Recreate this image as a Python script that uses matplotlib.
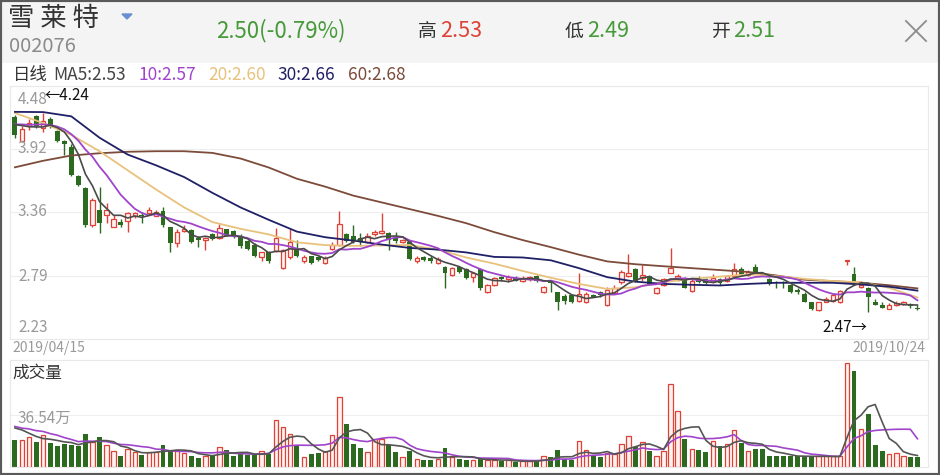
import matplotlib

matplotlib.use("Agg")

import matplotlib.pyplot as plt
import numpy as np
import pandas as pd
from matplotlib.lines import Line2D
from matplotlib.patches import Polygon, Rectangle

plt.rcParams['font.family'] = ['Noto Sans CJK SC', 'DejaVu Sans']

W, H = 940, 475

# daily candles 2019/04/15 .. 2019/10/24
opens = [4.20, 3.99, 4.12, 4.21, 4.11, 4.19, 4.08, 3.99, 3.94, 3.68,
         3.57, 3.24, 3.38, 3.33, 3.23, 3.27, 3.28, 3.32, 3.33, 3.35,
         3.32, 3.37, 3.23, 3.08, 3.19, 3.20, 3.13, 3.11, 3.16, 3.13,
         3.21, 3.19, 3.15, 3.10, 3.07, 2.96, 3.00, 3.01, 2.86, 2.96,
         3.03, 2.92, 2.97, 2.96, 2.91, 3.03, 3.07, 3.16, 3.15, 3.13,
         3.09, 3.16, 3.17, 3.17, 3.13, 3.09, 3.09, 2.92, 2.96, 2.95,
         2.91, 2.87, 2.80, 2.87, 2.85, 2.78, 2.85, 2.65, 2.71, 2.78,
         2.76, 2.77, 2.75, 2.76, 2.79, 2.65, 2.74, 2.65, 2.61, 2.62,
         2.57, 2.56, 2.62, 2.65, 2.53, 2.64, 2.74, 2.79, 2.85, 2.77,
         2.79, 2.64, 2.71, 2.82, 2.76, 2.77, 2.66, 2.76, 2.76, 2.74,
         2.76, 2.75, 2.79, 2.85, 2.80, 2.87, 2.82, 2.76, 2.74, 2.74,
         2.71, 2.67, 2.63, 2.56, 2.49, 2.56, 2.57, 2.56, 2.92, 2.81,
         2.69, 2.68, 2.56, 2.53, 2.50, 2.53, 2.54, 2.54, 2.51]
highs = [4.22, 4.12, 4.19, 4.22, 4.24, 4.20, 4.09, 4.00, 3.96, 3.69,
         3.58, 3.48, 3.58, 3.44, 3.33, 3.30, 3.36, 3.36, 3.36, 3.40,
         3.38, 3.40, 3.23, 3.21, 3.24, 3.21, 3.15, 3.14, 3.17, 3.25,
         3.21, 3.20, 3.16, 3.11, 3.08, 3.00, 3.01, 3.22, 3.03, 3.21,
         3.11, 2.98, 2.97, 2.97, 2.97, 3.09, 3.37, 3.17, 3.24, 3.17,
         3.17, 3.20, 3.35, 3.18, 3.18, 3.12, 3.11, 2.97, 2.97, 2.97,
         2.96, 2.88, 2.87, 2.88, 2.86, 2.83, 2.86, 2.72, 2.78, 2.79,
         2.80, 2.79, 2.79, 2.79, 2.80, 2.70, 2.75, 2.65, 2.63, 2.63,
         2.82, 2.65, 2.63, 2.66, 2.69, 2.71, 2.84, 2.99, 2.86, 2.89,
         2.80, 2.69, 2.77, 3.04, 2.81, 2.78, 2.77, 2.79, 2.77, 2.81,
         2.77, 2.80, 2.91, 2.87, 2.84, 2.90, 2.83, 2.77, 2.75, 2.75,
         2.72, 2.68, 2.65, 2.56, 2.56, 2.60, 2.63, 2.67, 2.93, 2.87,
         2.75, 2.69, 2.59, 2.56, 2.55, 2.57, 2.57, 2.55, 2.53]
lows = [4.02, 3.98, 4.09, 4.11, 4.07, 4.11, 3.98, 3.87, 3.68, 3.59,
        3.23, 3.23, 3.17, 3.26, 3.23, 3.23, 3.18, 3.31, 3.26, 3.33,
        3.32, 3.23, 3.00, 3.05, 3.18, 3.08, 3.05, 3.02, 3.11, 3.12,
        3.15, 3.13, 3.04, 3.02, 2.96, 2.92, 2.91, 3.00, 2.85, 2.94,
        2.96, 2.91, 2.90, 2.92, 2.90, 3.02, 3.06, 3.09, 3.08, 3.06,
        3.08, 3.15, 3.16, 3.02, 3.08, 3.08, 2.93, 2.91, 2.92, 2.91,
        2.90, 2.68, 2.79, 2.82, 2.76, 2.74, 2.67, 2.64, 2.70, 2.75,
        2.74, 2.75, 2.74, 2.75, 2.74, 2.64, 2.65, 2.49, 2.54, 2.55,
        2.56, 2.55, 2.60, 2.60, 2.52, 2.63, 2.72, 2.78, 2.74, 2.75,
        2.71, 2.63, 2.70, 2.82, 2.75, 2.68, 2.65, 2.73, 2.72, 2.73,
        2.71, 2.74, 2.78, 2.79, 2.79, 2.81, 2.79, 2.71, 2.68, 2.68,
        2.64, 2.63, 2.56, 2.49, 2.48, 2.56, 2.56, 2.55, 2.89, 2.71,
        2.68, 2.47, 2.53, 2.51, 2.50, 2.52, 2.53, 2.51, 2.49]
closes = [4.04, 4.10, 4.15, 4.12, 4.17, 4.12, 3.99, 3.96, 3.69, 3.60,
          3.24, 3.47, 3.26, 3.38, 3.30, 3.24, 3.35, 3.35, 3.32, 3.38,
          3.36, 3.24, 3.08, 3.18, 3.21, 3.09, 3.11, 3.13, 3.12, 3.22,
          3.15, 3.15, 3.06, 3.03, 2.97, 3.00, 2.92, 3.13, 3.02, 3.09,
          2.97, 2.96, 2.91, 2.93, 2.95, 3.07, 3.25, 3.10, 3.09, 3.09,
          3.15, 3.18, 3.19, 3.11, 3.10, 3.11, 2.94, 2.95, 2.93, 2.92,
          2.94, 2.82, 2.86, 2.83, 2.77, 2.82, 2.68, 2.71, 2.77, 2.76,
          2.78, 2.75, 2.77, 2.78, 2.75, 2.69, 2.73, 2.56, 2.57, 2.56,
          2.63, 2.63, 2.60, 2.62, 2.67, 2.68, 2.83, 2.82, 2.75, 2.80,
          2.72, 2.68, 2.76, 2.86, 2.79, 2.68, 2.75, 2.74, 2.73, 2.77,
          2.73, 2.79, 2.85, 2.80, 2.83, 2.82, 2.80, 2.72, 2.73, 2.73,
          2.65, 2.65, 2.56, 2.50, 2.56, 2.59, 2.62, 2.66, 2.93, 2.73,
          2.71, 2.60, 2.53, 2.51, 2.53, 2.55, 2.56, 2.52, 2.50]
# volume in 万手
volumes = [19.1, 19.1, 21.4, 17.9, 22.3, 16.8, 14.9, 16.3, 15.6, 14.9,
           23.0, 17.9, 21.4, 15.6, 10.9, 7.9, 12.8, 10.2, 8.6, 10.2,
           10.2, 15.6, 12.1, 11.6, 9.8, 7.4, 6.3, 7.9, 8.4, 14.0,
           11.6, 7.4, 9.8, 8.6, 8.1, 10.9, 9.3, 33.0, 28.4, 23.0,
           14.9, 6.7, 9.3, 9.8, 10.9, 22.6, 49.3, 30.3, 16.1, 13.3,
           10.2, 19.5, 19.5, 15.6, 10.7, 7.0, 10.9, 5.6, 5.1, 5.1,
           5.6, 13.3, 6.7, 5.6, 5.1, 4.7, 6.3, 4.7, 4.7, 4.0,
           4.7, 3.3, 4.0, 4.0, 4.7, 7.4, 6.7, 11.6, 5.6, 4.7,
           18.6, 11.6, 7.4, 7.0, 9.8, 9.3, 16.3, 21.9, 14.0, 17.9,
           10.9, 7.9, 10.9, 58.2, 39.1, 19.5, 12.6, 11.6, 10.7, 18.6,
           14.9, 16.1, 26.1, 16.8, 11.4, 12.8, 12.8, 7.9, 7.9, 7.4,
           7.4, 7.9, 7.4, 7.4, 7.4, 7.4, 7.4, 7.4, 73.1, 67.3,
           26.8, 37.0, 15.6, 11.4, 9.3, 9.8, 7.9, 6.7, 6.7]
# sessions before 04/15, only needed to start the short averages
pre_close = [4.12, 4.18, 4.10, 4.15, 4.17, 4.14, 4.20, 4.13, 4.17]
pre_volume = [31, 27, 30, 28, 32, 26, 33, 29, 30]

# long averages every 4th session
ma_idx = list(range(0, 129, 4))
ma20 = [4.24, 4.15, 4.045, 3.90, 3.73, 3.56, 3.40, 3.27, 3.21, 3.16,
        3.09, 3.065, 3.058, 3.062, 3.066, 3.025, 2.955, 2.90, 2.835, 2.775,
        2.72, 2.675, 2.69, 2.735, 2.765, 2.785, 2.805, 2.79, 2.765, 2.745,
        2.735, 2.685, 2.60]
ma30 = [4.25, 4.248, 4.21, 4.02, 3.87, 3.775, 3.67, 3.53, 3.40, 3.29,
        3.185, 3.135, 3.105, 3.07, 3.04, 3.025, 3.00, 2.96, 2.955, 2.93,
        2.86, 2.78, 2.74, 2.72, 2.712, 2.706, 2.72, 2.73, 2.73, 2.73,
        2.715, 2.695, 2.66]
ma60 = [3.757, 3.815, 3.862, 3.882, 3.895, 3.90, 3.90, 3.885, 3.835, 3.755,
        3.655, 3.585, 3.505, 3.445, 3.385, 3.325, 3.26, 3.18, 3.11, 3.047,
        2.98, 2.92, 2.895, 2.877, 2.86, 2.843, 2.826, 2.795, 2.757, 2.745,
        2.73, 2.708, 2.68]

price_ticks = [4.48, 3.92, 3.36, 2.79, 2.23]
vol_tick = 36.54

RED = '#dc4236'
RED_FILL = '#fff1ef'
GREEN = '#2c6b1f'
GREEN_TXT = '#479a3a'
C_MA5 = '#4a4a4a'
C_MA10 = '#a044cc'
C_MA20 = '#e8c27c'
C_MA30 = '#202066'
C_MA60 = '#7c4b3a'
GRID = '#efefef'
LABEL = '#9a9a9a'


def fx(px):
    return px / W


def fy(py):
    return 1 - py / H


o = np.array(opens)
h = np.array(highs)
lo = np.array(lows)
c = np.array(closes)
v = np.array(volumes)
n = len(c)
x = np.arange(n)
up = c >= o

all_close = pd.Series(pre_close + closes)
ma5 = all_close.rolling(5).mean().to_numpy()[len(pre_close):]
ma10 = all_close.rolling(10).mean().to_numpy()[len(pre_close):]
all_vol = pd.Series(pre_volume + volumes)
vma5 = all_vol.rolling(5).mean().to_numpy()[len(pre_volume):]
vma10 = all_vol.rolling(10).mean().to_numpy()[len(pre_volume):]

fig = plt.figure(figsize=(W / 100, H / 100), dpi=100)
fig.add_artist(Rectangle((0, fy(63)), 1, 1 - fy(63), transform=fig.transFigure,
                         facecolor='#f4f4f4', edgecolor='none', zorder=0))

ax = fig.add_axes([fx(10), fy(339), fx(928) - fx(10), fy(86) - fy(339)])
axv = fig.add_axes([fx(10), fy(467), fx(928) - fx(10), fy(360) - fy(467)])

for a in (ax, axv):
    a.set_xlim(-0.7, 129.5)
    a.set_xticks([])
    a.set_yticks([])
    for s in a.spines.values():
        s.set_color('#e9e9e9')
        s.set_linewidth(0.8)

# price panel
ax.set_ylim(2.23, 4.48)
for t in price_ticks[1:-1]:
    ax.axhline(t, color=GRID, lw=0.8, zorder=0)

body_lo = np.minimum(o, c)
body_hi = np.maximum(o, c)
body_h = np.maximum(body_hi - body_lo, 0.006)

ax.vlines(x[~up], lo[~up], h[~up], color=GREEN, lw=1, zorder=2)
ax.bar(x[~up], body_h[~up], bottom=body_lo[~up], width=0.7, color=GREEN, linewidth=0, zorder=2)
ax.vlines(x[up], lo[up], body_lo[up], color=RED, lw=1, zorder=2)
ax.vlines(x[up], body_hi[up], h[up], color=RED, lw=1, zorder=2)
ax.bar(x[up], body_h[up], bottom=body_lo[up], width=0.64, facecolor=RED_FILL,
       edgecolor=RED, linewidth=0.9, zorder=2)

ax.plot(ma_idx, ma60, color=C_MA60, lw=1.3, zorder=3)
ax.plot(ma_idx, ma20, color=C_MA20, lw=1.3, zorder=3)
ax.plot(ma_idx, ma30, color=C_MA30, lw=1.3, zorder=3)
ax.plot(x, ma10, color=C_MA10, lw=1.3, zorder=3)
ax.plot(x, ma5, color=C_MA5, lw=1.2, zorder=3)

offsets = [-14, 0, 0, 0, 12]
for t, dy in zip(price_ticks, offsets):
    ax.annotate(f"{t:.2f}", xy=(0, t), xycoords=ax.get_yaxis_transform(),
                xytext=(8, dy), textcoords='offset pixels',
                fontsize=11, color=LABEL, va='center', ha='left')

i_max = int(np.argmax(h))
i_min = int(np.argmin(lo))
ax.annotate(f"←{h[i_max]:.2f}", xy=(i_max, h[i_max]), xytext=(1, 17),
            textcoords='offset pixels', fontsize=11, color='#111111', va='center', ha='left')
ax.annotate(f"{lo[i_min]:.2f}→", xy=(i_min, lo[i_min]), xytext=(-1, -15),
            textcoords='offset pixels', fontsize=11, color='#111111', va='center', ha='right')

# volume panel
axv.set_ylim(0, 75.2)
axv.axhline(vol_tick, color=GRID, lw=0.8, zorder=0)
axv.bar(x[~up], v[~up], width=0.7, color=GREEN, linewidth=0, zorder=2)
axv.bar(x[up], v[up], width=0.64, facecolor=RED_FILL, edgecolor=RED, linewidth=0.9, zorder=2)
axv.plot(x, vma10, color=C_MA10, lw=1.2, zorder=3)
axv.plot(x, vma5, color='#555555', lw=1.2, zorder=3)
axv.annotate(f"{vol_tick:.2f}万", xy=(0, vol_tick), xycoords=axv.get_yaxis_transform(),
             xytext=(8, -3), textcoords='offset pixels',
             fontsize=11, color=LABEL, va='center', ha='left')

# header
fig.text(fx(8), fy(18), "雪 莱 特", fontsize=19, color='#333333', va='center')
fig.add_artist(Polygon([(fx(122), fy(14)), (fx(132), fy(14)), (fx(127), fy(19))],
                       closed=True, transform=fig.transFigure, color='#6a8fd0'))
fig.text(fx(9), fy(46), "002076", fontsize=14.5, color='#8a8a8a', va='center')
fig.text(fx(216), fy(31), "2.50(-0.79%)", fontsize=16, color=GREEN_TXT, va='center')
fig.text(fx(418), fy(31), "高", fontsize=13.5, color='#333333', va='center')
fig.text(fx(440), fy(31), "2.53", fontsize=15.5, color=RED, va='center')
fig.text(fx(565), fy(31), "低", fontsize=13.5, color='#333333', va='center')
fig.text(fx(587), fy(31), "2.49", fontsize=15.5, color=GREEN_TXT, va='center')
fig.text(fx(712), fy(31), "开", fontsize=13.5, color='#333333', va='center')
fig.text(fx(733), fy(31), "2.51", fontsize=15.5, color=GREEN_TXT, va='center')
fig.add_artist(Line2D([fx(906), fx(926)], [fy(21), fy(41)], transform=fig.transFigure,
                      color='#8c8c8c', lw=1.3))
fig.add_artist(Line2D([fx(926), fx(906)], [fy(21), fy(41)], transform=fig.transFigure,
                      color='#8c8c8c', lw=1.3))

legend_items = [("日线", 13, '#333333'),
                (f"MA5:{ma5[-1]:.2f}", 53, '#444444'),
                (f"10:{ma10[-1]:.2f}", 138, C_MA10),
                (f"20:{ma20[-1]:.2f}", 208, C_MA20),
                (f"30:{ma30[-1]:.2f}", 277, C_MA30),
                (f"60:{ma60[-1]:.2f}", 348, C_MA60)]
for txt, px, col in legend_items:
    fig.text(fx(px), fy(75), txt, fontsize=12.5, color=col, va='center')

fig.text(fx(12), fy(348), "2019/04/15", fontsize=10, color=LABEL, va='center')
fig.text(fx(925), fy(348), "2019/10/24", fontsize=10, color=LABEL, va='center', ha='right')
fig.text(fx(12), fy(373), "成交量", fontsize=12, color='#333333', va='center')

fig.add_artist(Rectangle((0, 0), 1, 1, transform=fig.transFigure, fill=False,
                         edgecolor='#5a5a5a', lw=3))

fig.savefig("out.png", dpi=100)
plt.close(fig)
